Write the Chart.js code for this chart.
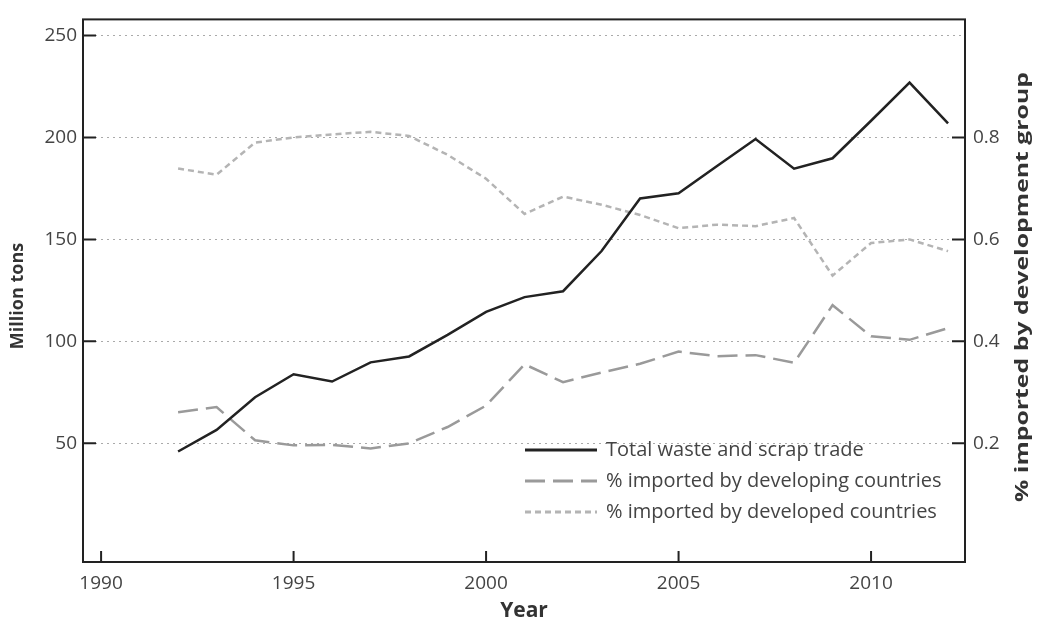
<!DOCTYPE html>
<html>
<head>
<meta charset="utf-8">
<script src="https://cdn.jsdelivr.net/npm/chart.js@4.4.1/dist/chart.umd.min.js"></script>
<style>
	html, body { margin: 0; padding: 0; background: #fff; }
	#wrap { width: 1044px; height: 628px; position: relative; }
</style>
</head>
<body>
<div id="wrap"><canvas id="wasteChart"></canvas></div>
<script>
const years = [1992, 1993, 1994, 1995, 1996, 1997, 1998, 1999, 2000, 2001, 2002,
	2003, 2004, 2005, 2006, 2007, 2008, 2009, 2010, 2011, 2012];
const totalTrade = [46, 56.6, 72.6, 83.9, 80.3, 89.7, 92.6, 103.2, 114.5, 121.7, 124.6,
	144.3, 170.1, 172.6, 186, 199.2, 184.7, 189.8, 208.2, 226.9, 206.9];
const developingShare = [0.261, 0.271, 0.206, 0.196, 0.197, 0.19, 0.2, 0.232, 0.274, 0.355, 0.32,
	0.339, 0.356, 0.38, 0.371, 0.373, 0.358, 0.471, 0.41, 0.403, 0.426];
const developedShare = [0.739, 0.727, 0.79, 0.8, 0.806, 0.811, 0.803, 0.766, 0.719, 0.65, 0.684,
	0.668, 0.648, 0.622, 0.629, 0.626, 0.642, 0.529, 0.593, 0.6, 0.577];
const yearTicks = [1990, 1995, 2000, 2005, 2010];
const tonTicks = [50, 100, 150, 200, 250];
const shareTicks = [0.2, 0.4, 0.6, 0.8];

const FONT = "'Open Sans', sans-serif";

function points(values) {
	return years.map((year, i) => ({ x: year, y: values[i] }));
}

// frame, inward tick marks, axis titles and legend
const decorations = {
	id: "decorations",
	afterDraw(chart) {
		const { ctx, chartArea: area, scales } = chart;
		ctx.save();
		ctx.strokeStyle = "#222";
		ctx.lineWidth = 2;
		ctx.strokeRect(area.left, area.top, area.right - area.left, area.bottom - area.top);

		ctx.beginPath();
		tonTicks.forEach((v) => {
			const y = scales.y.getPixelForValue(v);
			ctx.moveTo(area.left, y);
			ctx.lineTo(area.left + 13, y);
		});
		shareTicks.forEach((v) => {
			const y = scales.y1.getPixelForValue(v);
			ctx.moveTo(area.right, y);
			ctx.lineTo(area.right - 13, y);
		});
		yearTicks.forEach((v) => {
			const x = scales.x.getPixelForValue(v);
			ctx.moveTo(x, area.bottom);
			ctx.lineTo(x, area.bottom - 11);
		});
		ctx.stroke();

		ctx.fillStyle = "#333";
		ctx.textAlign = "center";
		ctx.textBaseline = "middle";
		ctx.font = "bold 21px " + FONT;
		ctx.fillText("Year", (area.left + area.right) / 2, 611);

		ctx.font = "bold 18px " + FONT;
		ctx.save();
		ctx.translate(18, 296);
		ctx.rotate(-Math.PI / 2);
		ctx.fillText("Million tons", 0, 0);
		ctx.restore();

		// right title runs longer in the original, stretch it along its length
		const rightTitle = "% imported by development group";
		ctx.save();
		ctx.translate(1023, 287);
		ctx.rotate(-Math.PI / 2);
		ctx.scale(430 / ctx.measureText(rightTitle).width, 1);
		ctx.fillText(rightTitle, 0, 0);
		ctx.restore();

		// legend
		ctx.font = "20px " + FONT;
		ctx.textAlign = "left";
		chart.data.datasets.forEach((ds, i) => {
			const y = 450 + i * 31;
			ctx.save();
			ctx.strokeStyle = ds.borderColor;
			ctx.lineWidth = 3;
			ctx.setLineDash(ds.borderDash || []);
			ctx.beginPath();
			ctx.moveTo(525, y);
			ctx.lineTo(597, y);
			ctx.stroke();
			ctx.restore();
			ctx.fillStyle = "#444";
			ctx.fillText(ds.label, 606, y);
		});
		ctx.restore();
	},
};

new Chart(document.getElementById("wasteChart"), {
	type: "line",
	data: {
		datasets: [
			{
				label: "Total waste and scrap trade",
				data: points(totalTrade),
				yAxisID: "y",
				borderColor: "#222",
				borderWidth: 2.5,
			},
			{
				label: "% imported by developing countries",
				data: points(developingShare),
				yAxisID: "y1",
				borderColor: "#9a9a9a",
				borderWidth: 2.5,
				borderDash: [20, 8],
			},
			{
				label: "% imported by developed countries",
				data: points(developedShare),
				yAxisID: "y1",
				borderColor: "#b4b4b4",
				borderWidth: 2.5,
				borderDash: [6, 4],
			},
		],
	},
	options: {
		responsive: true,
		maintainAspectRatio: false,
		animation: false,
		layout: { padding: { top: 12, left: 0, right: 0, bottom: 0 } },
		plugins: {
			legend: { display: false },
			tooltip: { enabled: false },
		},
		elements: { point: { radius: 0 }, line: { tension: 0 } },
		scales: {
			x: {
				type: "linear",
				min: 1989.53,
				max: 2012.44,
				afterBuildTicks: (s) => { s.ticks = yearTicks.map((v) => ({ value: v })); },
				afterFit: (s) => { s.height = 66; },
				grid: { display: false, drawTicks: false },
				border: { display: false },
				ticks: {
					padding: 10,
					color: "#444",
					font: { family: FONT, size: 19 },
					maxRotation: 0,
					callback: (v) => String(v),
				},
			},
			y: {
				position: "left",
				min: -8.2,
				max: 257.9,
				afterBuildTicks: (s) => { s.ticks = tonTicks.map((v) => ({ value: v })); },
				afterFit: (s) => { s.width = 83; },
				grid: { color: "#aaa", lineWidth: 1, drawTicks: false },
				border: { display: false, dash: [2, 4] },
				ticks: {
					padding: 6,
					color: "#444",
					font: { family: FONT, size: 19 },
					callback: (v) => String(v),
				},
			},
			y1: {
				position: "right",
				min: -8.2 / 250,
				max: 257.9 / 250,
				afterBuildTicks: (s) => { s.ticks = shareTicks.map((v) => ({ value: v })); },
				afterFit: (s) => { s.width = 79; },
				grid: { display: false, drawTicks: false },
				border: { display: false },
				ticks: {
					padding: 8,
					color: "#444",
					font: { family: FONT, size: 19 },
					callback: (v) => v.toFixed(1),
				},
			},
		},
	},
	plugins: [decorations],
});
</script>
</body>
</html>
